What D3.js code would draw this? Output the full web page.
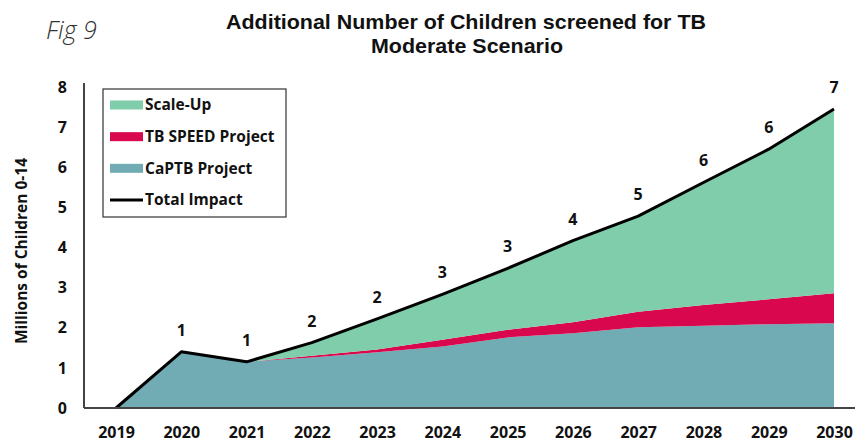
<!DOCTYPE html>
<html>
<head>
<meta charset="utf-8">
<script src="https://cdn.jsdelivr.net/npm/d3@7/dist/d3.min.js"></script>
<style>
  html, body { margin: 0; padding: 0; background: #fff; }
  svg { display: block; }
</style>
</head>
<body>
<svg id="chart" width="855" height="443"></svg>
<script>
// ---- data ----
const years = [2019, 2020, 2021, 2022, 2023, 2024, 2025, 2026, 2027, 2028, 2029, 2030];
const captb   = [0, 1.40, 1.15, 1.26, 1.39, 1.53, 1.76, 1.86, 2.01, 2.05, 2.09, 2.11];
const tbSpeed = [0, 0, 0, 0.04, 0.07, 0.17, 0.19, 0.28, 0.39, 0.52, 0.62, 0.75];
const scaleUp = [0, 0, 0, 0.33, 0.76, 1.13, 1.53, 2.03, 2.38, 3.05, 3.74, 4.59];
const totalImpact = [0, 1.40, 1.15, 1.63, 2.22, 2.83, 3.48, 4.17, 4.78, 5.62, 6.45, 7.45];
const dataLabels = ["", "1", "1", "2", "2", "3", "3", "4", "5", "6", "6", "7"];
const yTicks = [0, 1, 2, 3, 4, 5, 6, 7, 8];
const seriesNames = ["CaPTB Project", "TB SPEED Project", "Scale-Up"];
const legendNames = ["Scale-Up", "TB SPEED Project", "CaPTB Project", "Total Impact"];
const titleLines = ["Additional Number of Children screened for TB", "Moderate Scenario"];
const yAxisTitle = "Millions of Children 0-14";
const figLabel = "Fig 9";

// ---- styles ----
const colors = { "Scale-Up": "#7fcdaa", "TB SPEED Project": "#d9074e", "CaPTB Project": "#71abb4" };
const boldFont = "'Open Sans', 'DejaVu Sans', sans-serif";

const svg = d3.select("#chart");

const x = d3.scalePoint().domain(years).range([116, 834]);
const y = d3.scaleLinear().domain([0, 8]).range([408, 87]);

// table for stacking
const table = years.map((yr, i) => ({
  year: yr,
  "CaPTB Project": captb[i],
  "TB SPEED Project": tbSpeed[i],
  "Scale-Up": scaleUp[i],
  total: totalImpact[i],
  label: dataLabels[i]
}));

const stacked = d3.stack().keys(seriesNames)(table);

const area = d3.area()
  .x(d => x(d.data.year))
  .y0(d => y(d[0]))
  .y1(d => y(d[1]));

svg.append("g").selectAll("path")
  .data(stacked)
  .join("path")
  .attr("d", area)
  .attr("fill", d => colors[d.key]);

// total line
const line = d3.line().x(d => x(d.year)).y(d => y(d.total));
svg.append("path")
  .datum(table)
  .attr("d", line)
  .attr("fill", "none")
  .attr("stroke", "#000")
  .attr("stroke-width", 3)
  .attr("stroke-linejoin", "round");

// axes
const yAxis = d3.axisLeft(y).tickValues(yTicks).tickSize(0).tickPadding(17).tickFormat(d3.format("d"));
const gy = svg.append("g").attr("transform", "translate(84,0)").call(yAxis);
gy.select(".domain").attr("stroke", "#444").attr("stroke-width", 2).attr("d", "M0," + (y(8) - 4) + "V" + y(0));
gy.selectAll("text").attr("font-family", boldFont).attr("font-weight", "bold").attr("font-size", 16).attr("fill", "#111");

const xAxis = d3.axisBottom(x).tickSize(0).tickPadding(18.5).tickFormat(d3.format("d"));
const gx = svg.append("g").attr("transform", "translate(0," + y(0) + ")").call(xAxis);
gx.select(".domain").attr("stroke", "#444").attr("stroke-width", 2).attr("d", "M84,0H855");
gx.selectAll("text").attr("font-family", boldFont).attr("font-weight", "bold").attr("font-size", 16).attr("fill", "#111");

// data labels
svg.append("g").selectAll("text")
  .data(table)
  .join("text")
  .attr("x", d => x(d.year))
  .attr("y", d => y(d.total) - 16)
  .attr("text-anchor", "middle")
  .attr("font-family", boldFont)
  .attr("font-weight", "bold")
  .attr("font-size", 16)
  .attr("fill", "#111")
  .text(d => d.label);

// legend
const lg = svg.append("g");
lg.append("rect").attr("x", 103).attr("y", 89).attr("width", 183).attr("height", 128)
  .attr("fill", "#fff").attr("stroke", "#333").attr("stroke-width", 1.2);
const ly = d3.scalePoint().domain(legendNames).range([105, 200]);
legendNames.forEach(name => {
  const cy = ly(name);
  if (colors[name]) {
    lg.append("rect").attr("x", 110).attr("y", cy - 4.5).attr("width", 33).attr("height", 9).attr("fill", colors[name]);
  } else {
    lg.append("line").attr("x1", 110).attr("x2", 143).attr("y1", cy).attr("y2", cy).attr("stroke", "#000").attr("stroke-width", 3);
  }
  lg.append("text").attr("x", 145).attr("y", cy).attr("dy", "0.35em")
    .attr("font-family", boldFont).attr("font-weight", "bold").attr("font-size", 15.5)
    .attr("fill", "#111").text(name);
});

// y-axis title
svg.append("text")
  .attr("transform", "translate(22,251) rotate(-90)")
  .attr("text-anchor", "middle").attr("dy", "0.35em")
  .attr("font-family", boldFont).attr("font-weight", "bold").attr("font-size", 15.5)
  .attr("fill", "#111").text(yAxisTitle);

// title
const tfont = "'Liberation Sans Narrow', 'Liberation Sans', sans-serif";
svg.append("text").attr("x", 466).attr("y", 29).attr("text-anchor", "middle")
  .attr("font-family", tfont).attr("font-weight", "bold").attr("font-size", 21)
  .attr("fill", "#111").attr("textLength", 480).attr("lengthAdjust", "spacingAndGlyphs")
  .text(titleLines[0]);
svg.append("text").attr("x", 467).attr("y", 53).attr("text-anchor", "middle")
  .attr("font-family", tfont).attr("font-weight", "bold").attr("font-size", 21)
  .attr("fill", "#111").attr("textLength", 192).attr("lengthAdjust", "spacingAndGlyphs")
  .text(titleLines[1]);

// fig label
svg.append("text").attr("x", 46).attr("y", 39)
  .attr("font-family", "'Open Sans', sans-serif").attr("font-style", "italic").attr("font-weight", 300)
  .attr("font-size", 25).attr("fill", "#333").text(figLabel);
</script>
</body>
</html>
